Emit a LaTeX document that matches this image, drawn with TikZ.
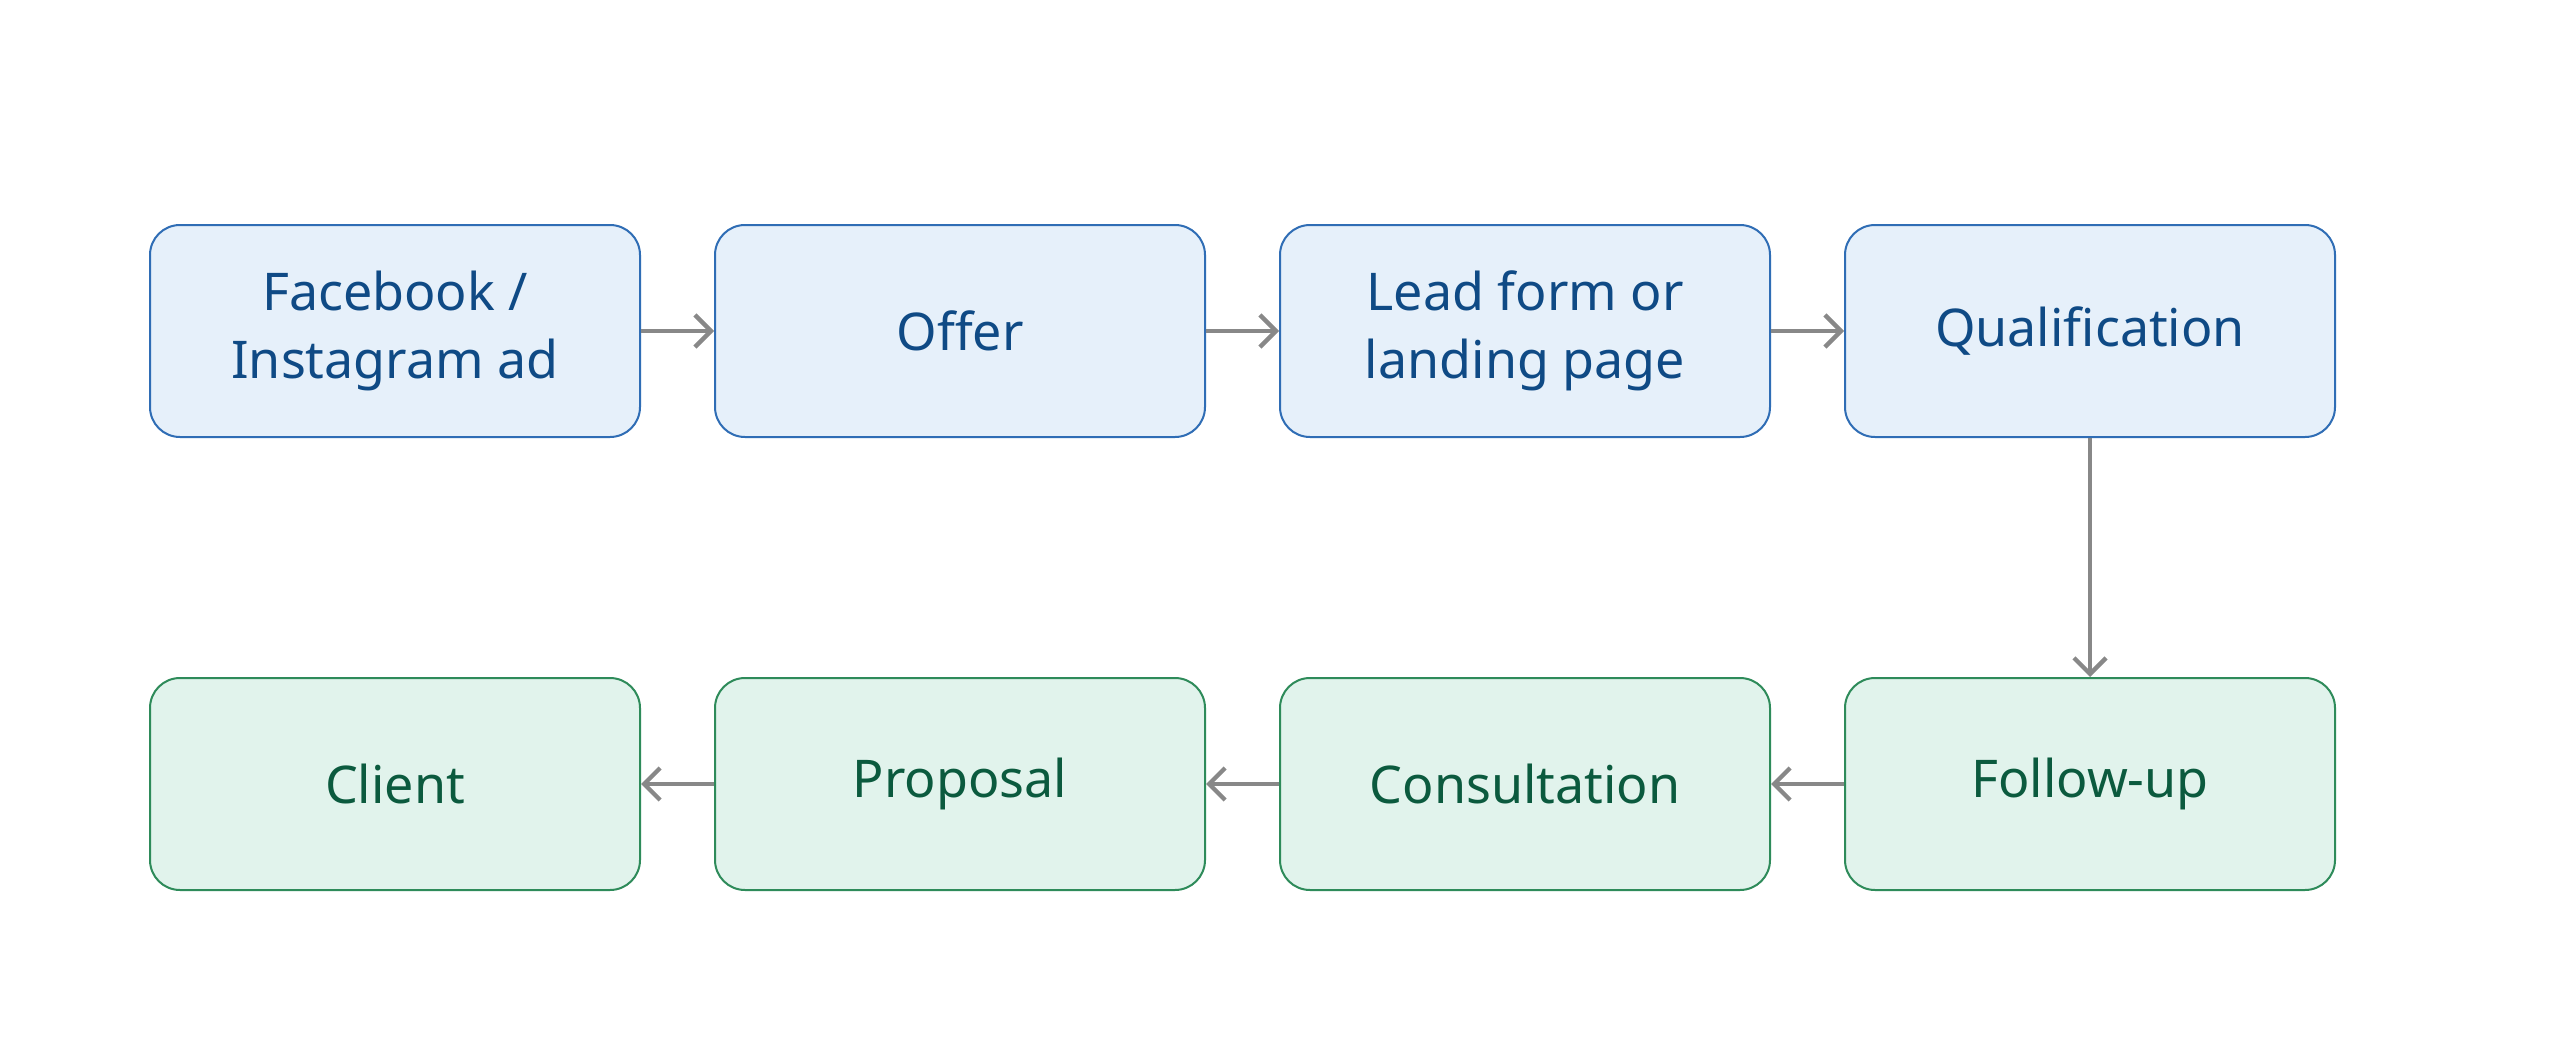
\documentclass[tikz,border=0pt]{standalone}
\usepackage{fontspec}
\setmainfont{Noto Sans}
\usetikzlibrary{arrows.meta}
\definecolor{bfill}{HTML}{E6F0FA}
\definecolor{bdraw}{HTML}{2F6DB5}
\definecolor{btext}{HTML}{0F4A85}
\definecolor{gfill}{HTML}{E1F3EC}
\definecolor{gdraw}{HTML}{2E8B5A}
\definecolor{gtext}{HTML}{0B5A3E}
\definecolor{arr}{HTML}{888888}
\begin{document}
\begin{tikzpicture}[x=0.5pt,y=-0.5pt,
  box/.style={rounded corners=15pt,line width=1pt,minimum width=245pt,minimum height=106pt,align=center,font=\fontsize{26}{34}\selectfont\bfseries,inner sep=0pt},
  blue/.style={box,fill=bfill,draw=bdraw,text=btext},
  green/.style={box,fill=gfill,draw=gdraw,text=gtext},
  ar/.style={draw=arr,line width=2.2pt,-{Straight Barb[length=8pt,width=16pt]}}]
\useasboundingbox[fill=white] (0,0) rectangle (2560,1054);
\node[blue] (a) at (395,331) {Facebook /\\Instagram ad};
\node[blue] (b) at (960,331) {Offer};
\node[blue] (c) at (1525,331) {Lead form or\\landing page};
\node[blue] (d) at (2090,331) {Qualification};
\node[green] (e) at (2090,784) {Follow-up};
\node[green] (f) at (1525,784) {Consultation};
\node[green] (g) at (960,784) {Proposal};
\node[green] (h) at (395,784) {Client};
\draw[ar] (a) -- (b);
\draw[ar] (b) -- (c);
\draw[ar] (c) -- (d);
\draw[ar] (d) -- (e);
\draw[ar] (e) -- (f);
\draw[ar] (f) -- (g);
\draw[ar] (g) -- (h);
\end{tikzpicture}
\end{document}
